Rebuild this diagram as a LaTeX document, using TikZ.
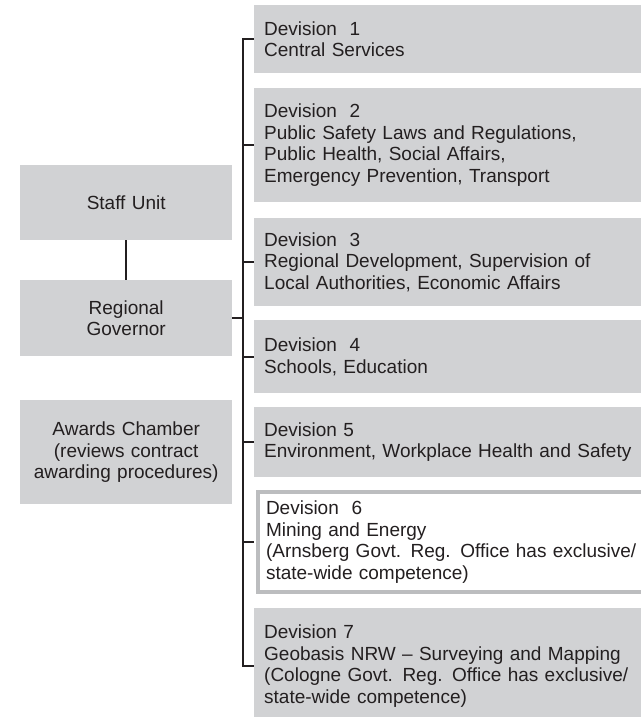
\documentclass[tikz,border=0pt]{standalone}
\usepackage{fontspec}
\setmainfont{Liberation Sans}
\usetikzlibrary{calc}
\definecolor{boxgrey}{HTML}{D1D2D4}
\definecolor{rimgrey}{HTML}{BCBDBF}
\definecolor{inkgrey}{HTML}{231F20}

\begin{document}
\begin{tikzpicture}[x=1pt,y=-1pt,
    every node/.style={font=\fontsize{19}{21.5}\selectfont,text=inkgrey},
    unit/.style={fill=boxgrey,inner sep=0pt,text width=212pt,align=center,anchor=north west},
    dept/.style={fill=boxgrey,inner sep=0pt,inner xsep=10pt,text width=390pt,align=left,anchor=north west},
    line/.style={line width=2pt,draw=inkgrey}]
  \useasboundingbox (0,0) rectangle (640,717);
  % left column
  \node[unit,minimum height=75pt] (staff) at (20,165) {Staff Unit};
  \node[unit,minimum height=76pt] (gov) at (20,280) {Regional\\Governor};
  \node[unit,minimum height=104pt] (awards) at (20,400) {Awards Chamber\\(reviews contract\\awarding procedures)};
  % divisions
  \node[dept,minimum height=68pt] (d1) at (254,5) {Devision\ \ 1\\Central Services};
  \node[dept,minimum height=114pt] (d2) at (254,88) {Devision\ \ 2\\Public Safety Laws and Regulations,\\Public Health, Social Affairs,\\Emergency Prevention, Transport};
  \node[dept,minimum height=88pt] (d3) at (254,218) {Devision\ \ 3\\Regional Development, Supervision of\\Local Authorities, Economic Affairs};
  \node[dept,minimum height=73pt] (d4) at (254,320) {Devision\ \ 4\\Schools, Education};
  \node[dept,minimum height=70pt] (d5) at (254,407) {Devision 5\\Environment, Workplace Health and Safety};
  \node[dept,minimum height=100pt,inner xsep=8pt,fill=white,draw=rimgrey,line width=4pt] (d6) at (256,490) {Devision\ \ 6\\Mining and Energy\\(Arnsberg Govt. Reg. Office has exclusive/\\state-wide competence)};
  \node[dept,minimum height=116pt] (d7) at (254,608) {Devision 7\\Geobasis NRW -- Surveying and Mapping\\(Cologne Govt. Reg. Office has exclusive/\\state-wide competence)};
  \coordinate (trunk) at (243,0);
  % connectors
  \path[line] (staff) -- (gov);
  \path[line] (gov.east) -- (gov.east -| trunk);
  \path[line] (d1.west) -- (d1.west -| trunk) -- (d7.west -| trunk) -- (d7.west);
  \foreach \d in {d2,d3,d4,d5}
    \path[line] (\d.west -| trunk) -- (\d.west);
  \path[line] (d6.west -| trunk) -- ([xshift=-2pt]d6.west);
\end{tikzpicture}
\end{document}
